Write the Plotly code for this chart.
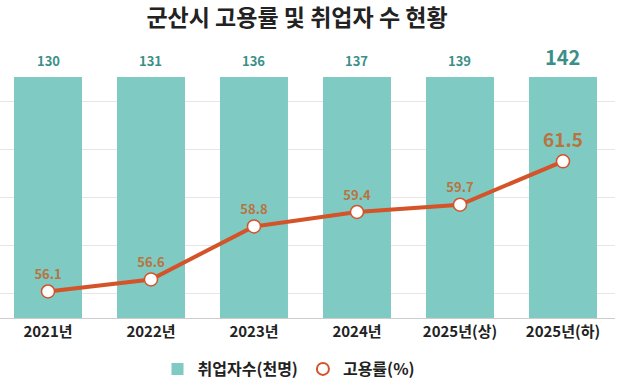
import plotly.graph_objects as go

categories = ["2021년", "2022년", "2023년", "2024년", "2025년(상)", "2025년(하)"]
employed = [130, 131, 136, 137, 139, 142]
rate = [56.1, 56.6, 58.8, 59.4, 59.7, 61.5]

BAR_COLOR = "#7fcac3"
LINE_COLOR = "#d45328"
BAR_LABEL = "#3a8f88"
LINE_LABEL = "#b8743f"
KFONT = "Noto Sans CJK KR"

fig = go.Figure()
fig.add_trace(go.Bar(
    x=categories, y=employed, name="취업자수(천명)",
    marker=dict(color=BAR_COLOR, line=dict(width=0)),
    width=0.66, yaxis="y",
))
label_sizes = [13] * (len(rate) - 1) + [19]
fig.add_trace(go.Scatter(
    x=categories, y=rate, name="고용률(%)", yaxis="y2",
    mode="lines+markers+text", showlegend=False,
    line=dict(color=LINE_COLOR, width=4),
    marker=dict(size=13, color="white", line=dict(color=LINE_COLOR, width=1.5)),
    text=[f"{v:.1f}" for v in rate],
    textposition="top center",
    textfont=dict(family=KFONT, size=label_sizes, color=LINE_LABEL, weight="bold"),
    cliponaxis=False,
))
# legend entry for the rate series (marker only, as in the reference legend)
fig.add_trace(go.Scatter(
    x=[None], y=[None], name="고용률(%)", yaxis="y2", mode="markers",
    marker=dict(size=15, symbol="circle-open", color=LINE_COLOR, line=dict(width=1.5)),
))

for i, (c, v) in enumerate(zip(categories, employed)):
    big = i == len(employed) - 1
    fig.add_annotation(
        x=c, y=1, xref="x", yref="paper", text=str(v), showarrow=False,
        yanchor="bottom", yshift=4 if big else 5,
        font=dict(family=KFONT, size=20 if big else 13, color=BAR_LABEL, weight="bold"),
    )

fig.update_layout(
    width=623, height=382,
    margin=dict(l=0, r=8, t=77, b=64),
    paper_bgcolor="white", plot_bgcolor="white",
    title=dict(text="<b>군산시 고용률 및 취업자 수 현황</b>", x=297 / 623, xanchor="center",
               y=1 - 18 / 382, yanchor="middle",
               font=dict(family=KFONT, size=23, color="#222222")),
    xaxis=dict(range=[-0.466, 5.505], showline=True, linecolor="#cccccc", linewidth=1,
               ticks="", showgrid=False,
               tickfont=dict(family=KFONT, size=15, color="#222222", weight="bold")),
    yaxis=dict(range=[0, 130], visible=False, showgrid=False),
    yaxis2=dict(range=[55, 65], dtick=2, overlaying="y", side="left",
                showticklabels=False, showgrid=True, gridcolor="#e6e6e6", gridwidth=1,
                zeroline=False, showline=False),
    showlegend=True,
    legend=dict(orientation="h", xref="container", x=289 / 623, xanchor="center",
                yref="container", y=1 - 369 / 382, yanchor="middle",
                font=dict(family=KFONT, size=16, color="#222222", weight="bold"),
                itemsizing="constant", itemwidth=30, tracegroupgap=0),
    bargap=0.34,
)

fig.write_html("out.html", config={"displayModeBar": False},
               post_script="document.body.style.margin='0';")
